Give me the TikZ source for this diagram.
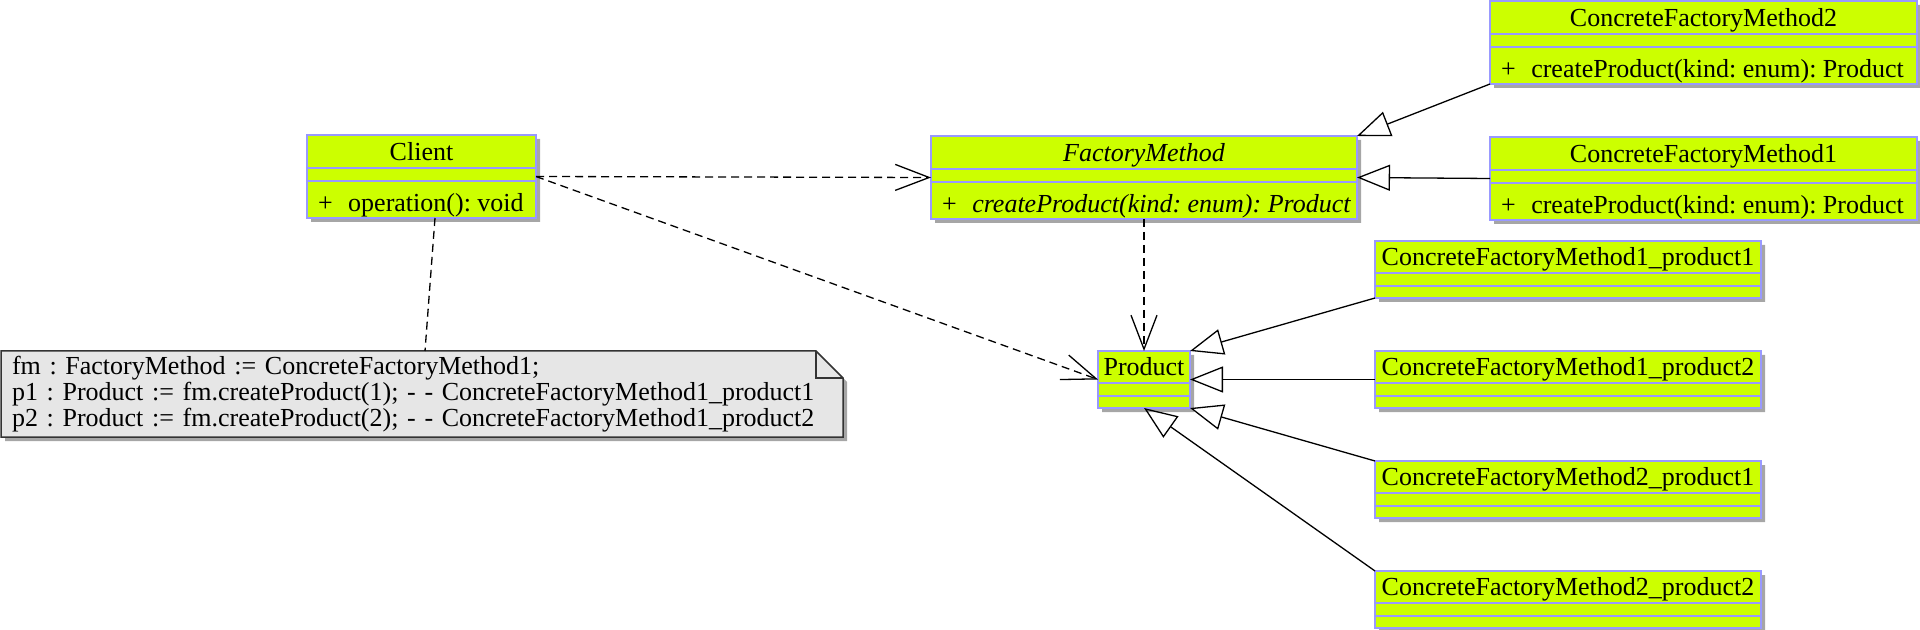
\documentclass[tikz,border=0pt]{standalone}
\usepackage{fontspec}
\setmainfont{Liberation Serif}
\usetikzlibrary{shapes.multipart,arrows.meta,positioning,calc,shadows,backgrounds}
\definecolor{classfill}{HTML}{CCFF00}
\definecolor{classline}{HTML}{9999FF}
\definecolor{notefill}{HTML}{E6E6E6}
\definecolor{notedraw}{HTML}{333333}
\definecolor{shadowgray}{HTML}{A6A6A6}
\frenchspacing
% compartment contents: width, text
\newcommand{\cname}[2]{\makebox[#1][c]{\rule[-3.3pt]{0pt}{15.75pt}#2}}
\newcommand{\pname}[2]{\makebox[#1][c]{\rule[-3.3pt]{0pt}{15.25pt}#2}}
\newcommand{\cattr}[1]{\makebox[#1][c]{\rule{0pt}{5.75pt}}}
\newcommand{\cop}[2]{\makebox[#1][l]{\rule[-2.95pt]{0pt}{17.75pt}\hspace{3pt}+\hspace{0.6em}#2}}
\newcommand{\cnoop}[1]{\makebox[#1][c]{\rule{0pt}{5.25pt}}}
\tikzset{
  umlclass/.style={rectangle split, rectangle split parts=3, draw=classline, line width=0.75pt,
                   fill=classfill, inner xsep=2.5pt, inner ysep=0pt, outer sep=0pt,
                   anchor=north west,
                   drop shadow={shadow xshift=2pt, shadow yshift=-2pt, fill=shadowgray, opacity=1}},
  notetext/.style={rectangle, inner xsep=5.5pt, inner ysep=0pt, outer sep=0pt, align=left,
                   text width=410pt, minimum height=43pt, anchor=north west,
                   font=\fontsize{13}{11.25}\selectfont},
  dep/.style={dash pattern=on 4pt off 2.5pt, line width=0.65pt, -{Straight Barb[length=17pt,width=13pt]}},
  gen/.style={line width=0.65pt, -{Triangle[open,length=16.5pt,width=13pt]}},
  link/.style={dash pattern=on 4pt off 2.5pt, line width=0.65pt}
}
\begin{document}
\begin{tikzpicture}[x=0.5pt, y=-0.5pt, font=\fontsize{13}{15}\selectfont]
\useasboundingbox (0,0) rectangle (1920,630);
% ---- client and factories ----
\node[umlclass] (cl) at (307,135)
  {\cname{109.5pt}{Client}\nodepart{two}\cattr{109.5pt}%
   \nodepart{three}\cop{109.5pt}{operation(): void}};
\node[umlclass] (fm) at (931,136)
  {\cname{208pt}{\itshape FactoryMethod}\nodepart{two}\cattr{208pt}%
   \nodepart{three}\cop{208pt}{\itshape createProduct(kind: enum): Product}};
\node[umlclass] (cfm2) at (1490,1)
  {\cname{208.5pt}{ConcreteFactoryMethod2}\nodepart{two}\cattr{208.5pt}%
   \nodepart{three}\cop{208.5pt}{createProduct(kind: enum): Product}};
\node[umlclass, below=26.5pt of cfm2] (cfm1)
  {\cname{208.5pt}{ConcreteFactoryMethod1}\nodepart{two}\cattr{208.5pt}%
   \nodepart{three}\cop{208.5pt}{createProduct(kind: enum): Product}};
% ---- products ----
\node[umlclass] (pr) at (1098,351)
  {\pname{41pt}{Product}\nodepart{two}\cattr{41pt}\nodepart{three}\cnoop{41pt}};
\node[umlclass] (p11) at (1375,241)
  {\pname{188pt}{ConcreteFactoryMethod1\_product1}\nodepart{two}\cattr{188pt}\nodepart{three}\cnoop{188pt}};
\node[umlclass, below=26.5pt of p11] (p12)
  {\pname{188pt}{ConcreteFactoryMethod1\_product2}\nodepart{two}\cattr{188pt}\nodepart{three}\cnoop{188pt}};
\node[umlclass, below=26.5pt of p12] (p21)
  {\pname{188pt}{ConcreteFactoryMethod2\_product1}\nodepart{two}\cattr{188pt}\nodepart{three}\cnoop{188pt}};
\node[umlclass, below=26.5pt of p21] (p22)
  {\pname{188pt}{ConcreteFactoryMethod2\_product2}\nodepart{two}\cattr{188pt}\nodepart{three}\cnoop{188pt}};
% ---- note ----
\node[notetext] (nt) at (1,351)
  {fm : FactoryMethod := ConcreteFactoryMethod1;\\
   p1 : Product := fm.createProduct(1); - - ConcreteFactoryMethod1\_product1\\
   p2 : Product := fm.createProduct(2); - - ConcreteFactoryMethod1\_product2};
\begin{scope}[on background layer]
\fill[shadowgray, transform canvas={xshift=2pt, yshift=-2pt}] (nt.north west)
  -- ($(nt.north east)+(-27,0)$) -- ($(nt.north east)+(0,27)$) -- (nt.south east) -- (nt.south west) -- cycle;
\filldraw[fill=notefill, draw=notedraw, line width=0.75pt] (nt.north west)
  -- ($(nt.north east)+(-27,0)$) -- ($(nt.north east)+(0,27)$) -- (nt.south east) -- (nt.south west) -- cycle;
\draw[notedraw, line width=0.75pt] ($(nt.north east)+(-27,0)$) |- ($(nt.north east)+(0,27)$);
\end{scope}
% ---- connectors ----
\draw[link] ($(cl.south)+(13.5,0)$) -- ($(nt.north)+(3,0)$);
\draw[dep] (cl.east) -- (fm.west);
\draw[dep] (cl.east) -- (pr.west);
\draw[dep] (fm.south) -- (pr.north);
\draw[gen] (cfm2.south west) -- (fm.north east);
\draw[gen] (cfm1.west) -- (fm.east);
\draw[gen] (p11.south west) -- (pr.north east);
\draw[gen] (p12.west) -- (pr.east);
\draw[gen] (p21.north west) -- (pr.south east);
\draw[gen] (p22.north west) -- (pr.south);
\end{tikzpicture}
\end{document}
